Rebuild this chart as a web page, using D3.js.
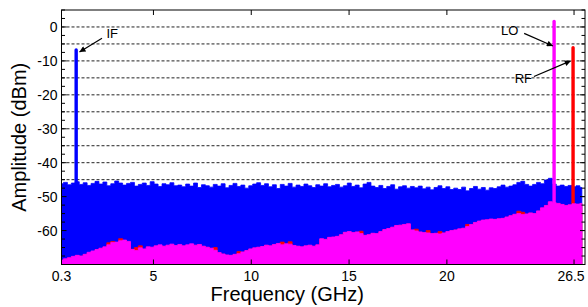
<!DOCTYPE html>
<html>
<head>
<meta charset="utf-8">
<script src="https://cdn.jsdelivr.net/npm/d3@7"></script>
<style>
  body { margin: 0; background: #fff; }
  svg { display: block; font-family: "Liberation Sans", Arial, sans-serif; }
</style>
</head>
<body>
<div id="chart"></div>
<script>
// noise floor traces, sampled evenly from noiseStart to noiseEnd (GHz), values in dBm
const noiseStart = 0.3;
const noiseEnd = 26.9;

const ifFloor = [
    -46.2, -45.8, -46.5, -46.0, -45.6, -46.4, -45.9, -46.7, -46.1, -45.5,
    -46.3, -45.7, -46.8, -46.2, -45.4, -46.0, -46.6, -46.1, -45.8, -46.9,
    -46.4, -46.0, -46.7, -45.6, -46.3, -47.0, -46.2, -46.5, -45.9, -46.8,
    -46.6, -47.1, -46.3, -46.9, -46.0, -47.3, -46.5, -46.8, -47.2, -46.4,
    -46.9, -46.2, -47.4, -46.7, -46.1, -47.0, -46.6, -47.5, -46.8, -46.3,
    -45.9, -46.7, -46.2, -47.1, -46.5, -47.6, -46.4, -46.9, -46.1, -47.2,
    -46.6, -47.0, -46.3, -46.8, -47.3, -46.5, -46.9, -46.2, -47.1, -46.7,
    -46.4, -47.2, -46.8, -46.0, -47.0, -46.6, -47.4, -46.3, -45.8, -46.9,
    -47.3, -46.7, -47.6, -47.0, -46.5, -47.8, -47.1, -46.8, -47.5, -47.0,
    -47.4, -46.9, -47.7, -47.2, -48.0, -47.3, -46.8, -47.6, -47.1, -47.9,
    -47.5, -47.9, -47.2, -48.3, -47.6, -47.0, -47.8, -47.3, -48.1, -47.4,
    -47.6, -47.1, -46.6, -47.2, -46.9, -46.5, -45.8, -45.5, -46.4, -46.9,
    -46.4, -45.8, -46.2, -45.1, -44.6, -46.3, -46.9, -46.6, -47.0, -46.7,
    -47.1, -46.8, -47.3
];

const rfFloor = [
    -68.9, -68.5, -68.1, -67.8, -67.4, -67.6, -67.1, -66.6, -66.2, -65.7,
    -65.3, -64.9, -63.6, -63.2, -63.6, -62.4, -62.9, -63.4, -65.5, -65.0,
    -64.5, -65.6, -64.9, -65.1, -64.6, -64.4, -64.7, -64.5, -64.2, -64.6,
    -64.3, -64.6, -64.4, -64.1, -64.5, -64.2, -64.7, -65.0, -65.3, -65.0,
    -66.6, -67.0, -67.3, -67.4, -67.1, -66.2, -66.4, -66.0, -65.5, -65.2,
    -65.0, -64.8, -64.4, -64.6, -64.2, -63.9, -63.4, -64.0, -63.3, -64.5,
    -64.7, -64.9, -64.6, -64.4, -64.7, -64.3, -62.5, -62.7, -62.1, -62.0,
    -61.8, -61.3, -60.6, -60.4, -60.7, -60.5, -60.2, -61.5, -61.3, -60.9,
    -61.0, -60.4, -59.8, -59.5, -59.1, -58.6, -58.5, -58.3, -58.1, -59.9,
    -59.6, -60.5, -60.7, -60.0, -61.0, -60.9, -60.3, -60.8, -60.4, -60.1,
    -59.9, -59.6, -59.4, -58.2, -58.3, -57.7, -57.3, -57.0, -56.9, -56.7,
    -56.8, -56.6, -56.5, -56.1, -55.7, -55.3, -54.3, -54.6, -55.2, -54.9,
    -55.1, -54.3, -53.4, -52.7, -51.6, -51.9, -52.1, -52.4, -52.7, -52.5,
    -52.2, -52.3, -52.1
];

const loFloor = [
    -68.7, -68.3, -68.0, -67.6, -67.3, -67.5, -67.0, -66.4, -66.0, -65.6,
    -65.2, -64.8, -64.2, -63.5, -63.4, -63.0, -62.8, -63.2, -65.6, -65.9,
    -65.1, -65.4, -64.8, -64.9, -64.5, -64.2, -64.6, -64.3, -64.0, -64.4,
    -64.1, -64.5, -64.2, -63.9, -64.3, -64.1, -64.6, -64.9, -65.2, -65.8,
    -66.5, -66.9, -67.2, -67.3, -67.0, -66.8, -66.3, -65.9, -65.4, -65.1,
    -64.9, -64.7, -64.3, -64.5, -64.1, -63.8, -64.2, -63.9, -64.0, -64.4,
    -64.6, -64.8, -64.5, -64.3, -64.6, -64.2, -62.4, -62.6, -62.0, -61.9,
    -61.7, -61.2, -60.5, -60.3, -60.6, -60.4, -60.9, -61.4, -61.2, -60.8,
    -60.9, -60.3, -59.7, -59.4, -59.0, -58.5, -58.4, -58.2, -58.0, -59.8,
    -60.1, -60.4, -60.6, -60.7, -60.9, -60.8, -61.0, -60.7, -60.3, -60.0,
    -59.8, -59.5, -59.3, -58.8, -58.2, -57.6, -57.2, -56.9, -56.8, -56.6,
    -56.7, -56.5, -56.4, -56.0, -55.6, -55.2, -55.0, -55.3, -55.1, -54.8,
    -55.0, -54.2, -53.3, -52.6, -51.5, -51.8, -52.0, -52.3, -52.6, -52.4,
    -52.1, -52.2, -52.0
];

// tones: name, frequency (GHz), peak (dBm)
const toneNames = ['IF', 'LO', 'RF'];
const toneFreqs = [1.05, 25.48, 26.45];
const tonePeaks = [-6.8, 1.6, -6.1];

// annotation arrows in data units: tail -> tip, label position
const labelFreqs = [2.6, 23.65, 24.35];
const labelLevels = [-3.3, -2.4, -16.4];
const arrowTail = [[2.37, -3.3], [23.95, -1.9], [24.45, -14.6]];
const arrowTip = [[1.22, -7.4], [25.42, -5.6], [26.33, -10.0]];

const xTicks = [0.3, 5, 10, 15, 20, 26.5];
const yTicks = [0, -10, -20, -30, -40, -50, -60];

const width = 588, height = 307;
const margin = {left: 61.5, right: 585, top: 10, bottom: 264.5};

const svg = d3.select('#chart').append('svg')
    .attr('width', width)
    .attr('height', height)
    .attr('viewBox', [0, 0, width, height]);

const x = d3.scaleLinear().domain([0.3, 27.06]).range([margin.left, margin.right]);
const y = d3.scaleLinear().domain([-70, 5]).range([margin.bottom, margin.top]);

const defs = svg.append('defs');
defs.append('clipPath').attr('id', 'plot')
    .append('rect')
    .attr('x', margin.left).attr('y', margin.top)
    .attr('width', margin.right - margin.left).attr('height', margin.bottom - margin.top);

defs.append('marker')
    .attr('id', 'head')
    .attr('viewBox', '0 0 10 10')
    .attr('refX', 10).attr('refY', 5)
    .attr('markerWidth', 8).attr('markerHeight', 6)
    .attr('markerUnits', 'userSpaceOnUse')
    .attr('orient', 'auto')
    .append('path')
    .attr('d', 'M0,0 L10,5 L0,10 Z')
    .attr('fill', '#000');

// dashed grid every 5 dB
const gridLevels = d3.range(0, -70, -5);
svg.append('g').selectAll('line')
    .data(gridLevels)
    .join('line')
    .attr('x1', margin.left).attr('x2', margin.right)
    .attr('y1', d => y(d)).attr('y2', d => y(d))
    .attr('stroke', '#222')
    .attr('stroke-width', 1)
    .attr('stroke-dasharray', '3,2');

const plot = svg.append('g').attr('clip-path', 'url(#plot)');

function trace(values, color, tone) {
    const step = (noiseEnd - noiseStart) / (values.length - 1);
    const pts = values.map((v, i) => [noiseStart + i * step, v]);
    const area = d3.area()
        .curve(d3.curveStep)
        .x(d => x(d[0]))
        .y0(y(-70))
        .y1(d => y(d[1]));
    plot.append('path')
        .datum(pts)
        .attr('d', area)
        .attr('fill', color)
        .attr('stroke', color)
        .attr('stroke-width', 0.8);
    plot.append('line')
        .attr('x1', x(toneFreqs[tone])).attr('x2', x(toneFreqs[tone]))
        .attr('y1', y(-70)).attr('y2', y(tonePeaks[tone]))
        .attr('stroke', color)
        .attr('stroke-width', 3.4)
        .attr('stroke-linecap', 'round');
}

trace(ifFloor, '#0000ff', 0);
trace(rfFloor, '#ff0000', 2);
trace(loFloor, '#ff00ff', 1);

// frame
svg.append('rect')
    .attr('x', margin.left).attr('y', margin.top)
    .attr('width', margin.right - margin.left).attr('height', margin.bottom - margin.top)
    .attr('fill', 'none')
    .attr('stroke', '#000')
    .attr('stroke-width', 1);

// ticks, inward
const minorLevels = d3.range(5, -70, -2.5);
const tk = svg.append('g').attr('stroke', '#000').attr('stroke-width', 1);
minorLevels.forEach(v => {
    const len = (v % 10 === 0) ? 5 : 3.5;
    tk.append('line').attr('x1', margin.left).attr('x2', margin.left + len).attr('y1', y(v)).attr('y2', y(v));
    tk.append('line').attr('x1', margin.right).attr('x2', margin.right - len).attr('y1', y(v)).attr('y2', y(v));
});
xTicks.forEach(f => {
    tk.append('line').attr('x1', x(f)).attr('x2', x(f)).attr('y1', margin.top).attr('y2', margin.top + 5);
    tk.append('line').attr('x1', x(f)).attr('x2', x(f)).attr('y1', margin.bottom).attr('y2', margin.bottom - 5);
});

// tick labels
svg.append('g').selectAll('text')
    .data(xTicks)
    .join('text')
    .attr('x', d => x(d) - (d === 26.5 ? 3 : 0))
    .attr('y', margin.bottom + 16)
    .attr('text-anchor', 'middle')
    .attr('font-size', 14)
    .text(d => d);

svg.append('g').selectAll('text')
    .data(yTicks)
    .join('text')
    .attr('x', margin.left - 4)
    .attr('y', d => y(d) + 5)
    .attr('text-anchor', 'end')
    .attr('font-size', 14)
    .text(d => d);

// axis titles
svg.append('text')
    .attr('x', (margin.left + margin.right) / 2 - 36)
    .attr('y', 301)
    .attr('text-anchor', 'middle')
    .attr('font-size', 20)
    .text('Frequency (GHz)');

svg.append('text')
    .attr('transform', `translate(26, ${(margin.top + margin.bottom) / 2}) rotate(-90)`)
    .attr('text-anchor', 'middle')
    .attr('font-size', 20)
    .text('Amplitude (dBm)');

// annotations
toneNames.forEach((name, i) => {
    svg.append('line')
        .attr('x1', x(arrowTail[i][0])).attr('y1', y(arrowTail[i][1]))
        .attr('x2', x(arrowTip[i][0])).attr('y2', y(arrowTip[i][1]))
        .attr('stroke', '#000')
        .attr('stroke-width', 1.2)
        .attr('marker-end', 'url(#head)');
    svg.append('text')
        .attr('x', x(labelFreqs[i]))
        .attr('y', y(labelLevels[i]))
        .attr('text-anchor', i === 0 ? 'start' : 'end')
        .attr('font-size', 13)
        .text(name);
});
</script>
</body>
</html>
